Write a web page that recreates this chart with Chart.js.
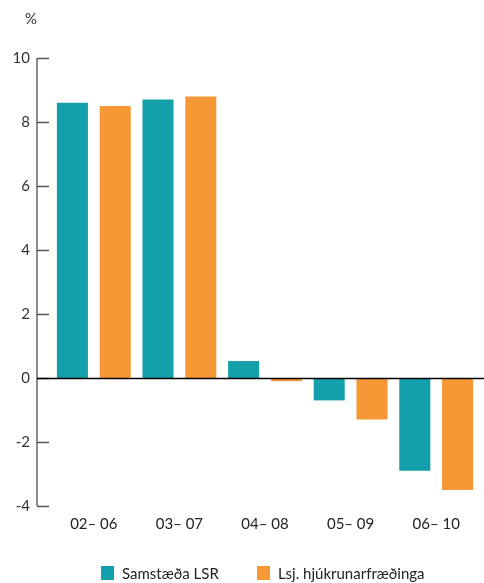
<!DOCTYPE html>
<html><head><meta charset="utf-8">
<script src="https://cdn.jsdelivr.net/npm/chart.js@4"></script>
<style>html,body{margin:0;padding:0;background:#fff}#wrap{width:484px;height:583px}</style>
</head><body><div id="wrap"><canvas id="c" width="484" height="583"></canvas></div>
<script>
const categories = ["02– 06", "03– 07", "04– 08", "05– 09", "06– 10"];
const seriesNames = ["Samstæða LSR", "Lsj. hjúkrunarfræðinga"];
const lsrValues = [8.6, 8.7, 0.53, -0.7, -2.9];
const hjukValues = [8.5, 8.8, -0.1, -1.3, -3.5];
const yTicks = [-4, -2, 0, 2, 4, 6, 8, 10];
const colors = ["#13a0aa", "#f79837"];
const FONT = "Lato, 'Open Sans', sans-serif";

const axisPlugin = {
  id: 'axisPlugin',
  afterDatasetsDraw(chart) {
    const ctx = chart.ctx, ys = chart.scales.y, area = chart.chartArea;
    const ax = area.left - 14;
    ctx.save();
    // y axis line
    ctx.strokeStyle = '#666'; ctx.lineWidth = 1.5;
    ctx.beginPath(); ctx.moveTo(ax, ys.getPixelForValue(10)); ctx.lineTo(ax, ys.getPixelForValue(-4)); ctx.stroke();
    // tick marks
    ctx.strokeStyle = '#555'; ctx.lineWidth = 1.5;
    yTicks.forEach(v => {
      const y = Math.round(ys.getPixelForValue(v)) + 0.5;
      ctx.beginPath(); ctx.moveTo(ax, y); ctx.lineTo(ax + 12, y); ctx.stroke();
    });
    // zero line
    const y0 = Math.round(ys.getPixelForValue(0)) + 0.5;
    ctx.strokeStyle = '#000'; ctx.lineWidth = 1.3;
    ctx.beginPath(); ctx.moveTo(ax, y0); ctx.lineTo(chart.width, y0); ctx.stroke();
    // % label
    ctx.fillStyle = '#333'; ctx.font = '15px ' + FONT; ctx.textAlign = 'center'; ctx.textBaseline = 'middle';
    ctx.fillText('%', ax - 6, 19);
    // legend
    ctx.font = '15px ' + FONT; ctx.textAlign = 'left';
    const ly = 573;
    const startX = [101, 257];
    chart.data.datasets.forEach((ds, i) => {
      ctx.fillStyle = ds.backgroundColor;
      ctx.fillRect(startX[i], ly - 7, 13, 14);
      ctx.fillStyle = '#222';
      ctx.fillText(ds.label, startX[i] + 21, ly + 1);
    });
    ctx.restore();
  }
};

new Chart(document.getElementById('c'), {
  type: 'bar',
  data: {
    labels: categories,
    datasets: [
      { label: seriesNames[0], data: lsrValues, backgroundColor: colors[0] },
      { label: seriesNames[1], data: hjukValues, backgroundColor: colors[1] }
    ]
  },
  options: {
    responsive: false,
    animation: false,
    layout: { padding: { left: 0, right: 5, top: 58, bottom: 0 } },
    datasets: { bar: { categoryPercentage: 1.0, barPercentage: 0.725 } },
    plugins: { legend: { display: false }, tooltip: { enabled: false } },
    scales: {
      x: {
        grid: { display: false, drawTicks: false },
        border: { display: false },
        ticks: { color: '#222', font: { family: FONT, size: 15 }, padding: 9, maxRotation: 0 },
        afterFit(s) { s.height = 77; }
      },
      y: {
        min: -4, max: 10,
        grid: { display: false, drawTicks: false },
        border: { display: false },
        afterBuildTicks(s) { s.ticks = yTicks.map(v => ({ value: v })); },
        ticks: { color: '#333', font: { family: FONT, size: 15 }, padding: 21 },
        afterFit(s) { s.width = 51; }
      }
    }
  },
  plugins: [axisPlugin]
});
</script></body></html>
